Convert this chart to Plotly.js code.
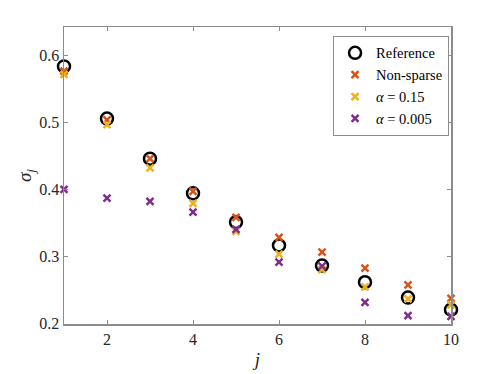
<!DOCTYPE html>
<html>
<head>
<meta charset="utf-8">
<script src="https://cdn.plot.ly/plotly-3.0.1.min.js"></script>
<style>
  html, body { margin: 0; padding: 0; background: #fff; }
  #graph1 { width: 498px; height: 374px; }
</style>
</head>
<body>
<div id="graph1"></div>
<script>
// index j and singular values
let jValues = [1, 2, 3, 4, 5, 6, 7, 8, 9, 10];
let refValues = [0.584, 0.506, 0.446, 0.394, 0.351, 0.316, 0.286, 0.261, 0.238, 0.220];
let nonSparseValues = [0.577, 0.504, 0.446, 0.397, 0.358, 0.328, 0.306, 0.282, 0.257, 0.237];
let alpha015Values = [0.572, 0.497, 0.432, 0.379, 0.337, 0.303, 0.280, 0.254, 0.236, 0.227];
let alpha0005Values = [0.400, 0.387, 0.382, 0.366, 0.340, 0.291, 0.285, 0.231, 0.211, 0.210];
let yTicks = [0.2, 0.3, 0.4, 0.5, 0.6];
let xTicks = [2, 4, 6, 8, 10];

let serif = 'Liberation Serif, Times New Roman, serif';

function crossTrace(name, yData, color) {
  return {
    x: jValues,
    y: yData,
    name: name,
    mode: 'markers',
    type: 'scatter',
    cliponaxis: false,
    marker: {
      symbol: 'x-thin-open',
      size: 7,
      color: color,
      line: { color: color, width: 2.5 }
    }
  };
}

let refTrace = {
  x: jValues,
  y: refValues,
  name: 'Reference',
  mode: 'markers',
  type: 'scatter',
  cliponaxis: false,
  marker: {
    symbol: 'circle-open',
    size: 12,
    color: '#000',
    line: { color: '#000', width: 2.5 }
  }
};

// drawing order: reference circles first, then the crosses on top
var data = [
  refTrace,
  crossTrace('Non-sparse', nonSparseValues, '#D95319'),
  crossTrace('<i>α</i> = 0.15', alpha015Values, '#EDB120'),
  crossTrace('<i>α</i> = 0.005', alpha0005Values, '#7E2F8E')
];

var axisStyle = {
  showgrid: false,
  zeroline: false,
  showline: true,
  linecolor: '#8c8c8c',
  linewidth: 1.5,
  mirror: 'ticks',
  ticks: 'inside',
  ticklen: 4,
  tickcolor: '#8c8c8c',
  tickwidth: 1,
  tickfont: { family: serif, size: 16, color: '#262626' }
};

var layout = {
  width: 498,
  height: 374,
  paper_bgcolor: '#fff',
  plot_bgcolor: '#fff',
  margin: { l: 64, r: 47, t: 27, b: 50 },
  showlegend: true,
  font: { family: serif, color: '#262626' },
  xaxis: Object.assign({}, axisStyle, {
    range: [1, 10],
    tickvals: xTicks,
    title: { text: '<i>j</i>', font: { family: serif, size: 19, color: '#262626' }, standoff: 6 }
  }),
  yaxis: Object.assign({}, axisStyle, {
    range: [0.1985, 0.643],
    tickvals: yTicks,
    ticktext: yTicks.map(v => v.toFixed(1)),
    title: { text: '<i>σ<sub>j</sub></i>', font: { family: serif, size: 19, color: '#262626' }, standoff: 2 }
  }),
  legend: {
    x: 0.995,
    y: 0.97,
    xanchor: 'right',
    yanchor: 'top',
    bgcolor: '#fff',
    bordercolor: '#8c8c8c',
    borderwidth: 1,
    itemwidth: 32,
    tracegroupgap: 0,
    font: { family: serif, size: 14.5, color: '#000' }
  }
};

Plotly.newPlot('graph1', data, layout, { displayModeBar: false, staticPlot: true });
</script>
</body>
</html>
